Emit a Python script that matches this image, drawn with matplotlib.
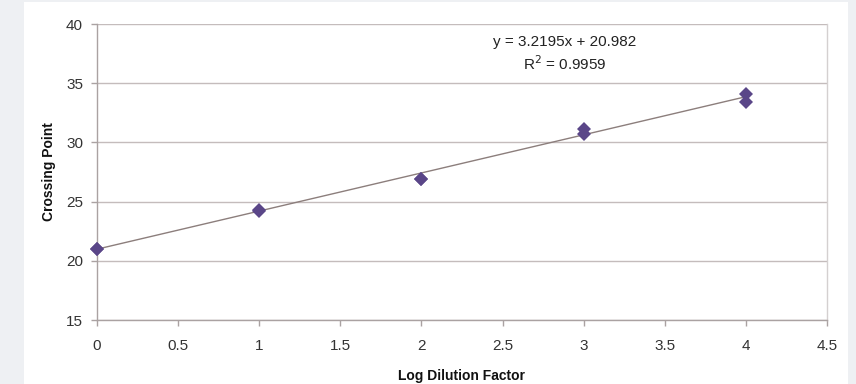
import matplotlib
matplotlib.use("Agg")
import matplotlib.pyplot as plt
from matplotlib.patches import Rectangle

plt.rcParams['font.family'] = ['Liberation Sans', 'DejaVu Sans']

# Replicate measurements: log dilution factor vs crossing point
log_dilution = [0, 0, 1, 1, 2, 2, 3, 3, 4, 4]
crossing_point = [21.0, 21.0, 24.2, 24.3, 26.9, 26.9, 31.1, 30.7, 34.1, 33.4]

# Linear fit as reported
slope = 3.2195
intercept = 20.982
r_squared = 0.9959
fit_x = [0, 4]

x_ticks = [0, 0.5, 1, 1.5, 2, 2.5, 3, 3.5, 4, 4.5]
x_tick_labels = ['0', '0.5', '1', '1.5', '2', '2.5', '3', '3.5', '4', '4.5']
y_ticks = [15, 20, 25, 30, 35, 40]

W, H = 856, 384
fig = plt.figure(figsize=(W / 100, H / 100), dpi=100)
fig.patch.set_facecolor('#eef0f3')
fig.patches.append(Rectangle((24 / W, 0), (848 - 24) / W, (H - 2) / H,
                             transform=fig.transFigure, facecolor='white',
                             edgecolor='none', zorder=-10))

ax = fig.add_axes([97 / W, 1 - 320 / H, (827 - 97) / W, (320 - 24) / H])
ax.set_facecolor('none')

grid_color = '#c4bcbc'
ax.set_xlim(0, 4.5)
ax.set_ylim(15, 40)
ax.set_xticks(x_ticks)
ax.set_xticklabels(x_tick_labels)
ax.set_yticks(y_ticks)
ax.yaxis.grid(True, color=grid_color, linewidth=1.0)
ax.set_axisbelow(True)

for side in ['left', 'bottom', 'right']:
    ax.spines[side].set_color('#aaa2a2')
    ax.spines[side].set_linewidth(1.0)
ax.spines['top'].set_visible(False)
ax.spines['right'].set_color('#d4d0d0')

ax.tick_params(axis='both', colors='#aaa2a2', length=4, width=1,
               labelcolor='#333333', labelsize=11)
ax.tick_params(axis='x', pad=10)
ax.tick_params(axis='y', pad=6)

fit_y = [slope * xv + intercept for xv in fit_x]
ax.plot(fit_x, fit_y, color='#8c7e7c', linewidth=1.0, zorder=2)
ax.plot(log_dilution, crossing_point, linestyle='none', marker='D',
        markersize=7, color='#5a4688', markeredgewidth=0, zorder=3,
        clip_on=False)

ax.text(0.641, 0.94, f'y = {slope}x + {intercept}', transform=ax.transAxes,
        ha='center', va='center', fontsize=11, color='#222222')
ax.text(0.641, 0.866, f'R$^2$ = {r_squared}', transform=ax.transAxes,
        ha='center', va='center', fontsize=11, color='#222222')

ax.set_xlabel('Log Dilution Factor', fontsize=10, fontweight='bold',
              color='#111111', labelpad=11)
ax.set_ylabel('Crossing Point', fontsize=10, fontweight='bold',
              color='#111111', labelpad=7)

fig.savefig('out.png', dpi=100, facecolor=fig.get_facecolor())
